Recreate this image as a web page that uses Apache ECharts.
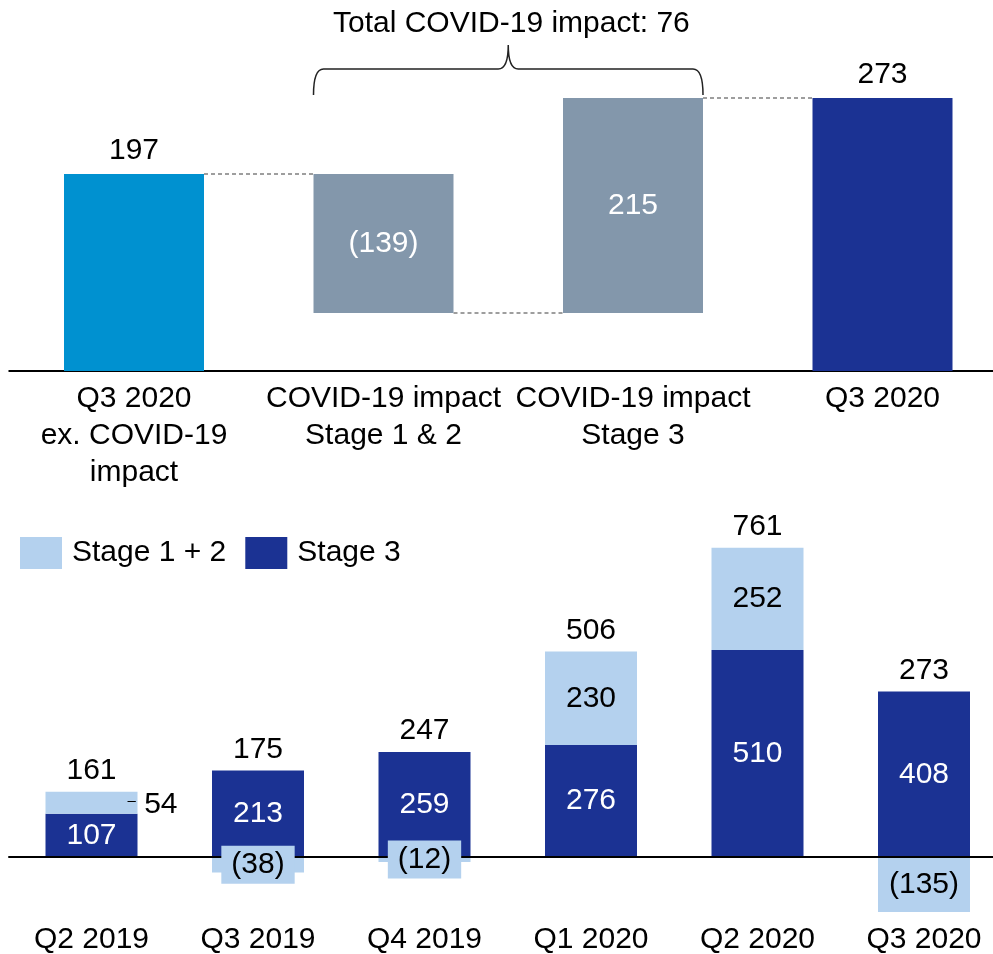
<!DOCTYPE html>
<html>
<head>
<meta charset="utf-8">
<script src="https://cdn.jsdelivr.net/npm/echarts@6/dist/echarts.min.js"></script>
<style>
  html, body { margin: 0; padding: 0; background: #fff; }
  #chart { width: 993px; height: 954px; }
</style>
</head>
<body>
<div id="chart"></div>
<script>
// top: waterfall
const wfCategories = ['Q3 2020\nex. COVID-19\nimpact', 'COVID-19 impact\nStage 1 & 2', 'COVID-19 impact\nStage 3', 'Q3 2020']
const wfValues = [197, -139, 215, 273]
const wfIsTotal = [true, false, false, true]
const wfColors = ['#0091d0', '#8397ab', '#8397ab', '#1b3293']
const braceText = 'Total COVID-19 impact: 76'
const braceSpan = [1, 2]

// bottom: stacked quarters
const quarters = ['Q2 2019', 'Q3 2019', 'Q4 2019', 'Q1 2020', 'Q2 2020', 'Q3 2020']
const stage12 = [54, -38, -12, 230, 252, -135]
const stage3 = [107, 213, 259, 276, 510, 408]
const totals = [161, 175, 247, 506, 761, 273]

const FONT = 'Liberation Sans, Arial, sans-serif'
const LIGHT = '#b4d1ee'
const NAVY = '#1b3293'
const TOP_BAR = 140
const BOTTOM_BAR = 92

const fmt = v => v < 0 ? '(' + Math.abs(v) + ')' : String(v)

// waterfall base / height and connector levels
const wfBase = []
const wfHeight = []
const levels = []
let running = 0
wfValues.forEach((v, i) => {
  if (wfIsTotal[i]) {
    wfBase.push(0)
    wfHeight.push(v)
    running = v
  } else if (v < 0) {
    wfBase.push(running + v)
    wfHeight.push(-v)
    running += v
  } else {
    wfBase.push(running)
    wfHeight.push(v)
    running += v
  }
  levels.push(running)
})
const connectors = levels.slice(0, -1).map((lv, i) => [i, lv])
const braceLevel = Math.max(...braceSpan.map(i => wfBase[i] + wfHeight[i]))

const wfData = wfHeight.map((h, i) => ({
  value: h,
  itemStyle: { color: wfColors[i] },
  label: wfIsTotal[i]
    ? { position: 'top', distance: 8, color: '#000' }
    : { position: 'inside', color: '#fff' }
}))

// negative stage 1+2 labels sit on a higher layer, above the zero line
const stage12Data = stage12.map(v => v < 0 ? { value: v, label: { show: false } } : v)
const negLabels = stage12.map((v, i) => v < 0 ? [i, v / 2] : [i, '-'])

// the small 54 segment is labelled outside, to the right
stage12Data[0] = {
  value: stage12[0],
  label: {
    position: 'right',
    distance: -10,
    formatter: '{d|–} {n|' + stage12[0] + '}',
    rich: {
      d: { fontSize: 15, fontFamily: FONT, color: '#000', padding: [0, 0, 4, 0] },
      n: { fontSize: 30, fontFamily: FONT, color: '#000', padding: [4, 0, 0, 0] }
    }
  }
}

const totalTops = stage3.map((v, i) => [i, v + Math.max(stage12[i], 0)])

const chart = echarts.init(document.getElementById('chart'))

const option = {
  animation: false,
  textStyle: { fontFamily: FONT },
  title: {
    text: braceText,
    left: 333,
    top: 9,
    padding: 0,
    textStyle: { fontFamily: FONT, fontSize: 30, fontWeight: 'normal', color: '#000' }
  },
  legend: {
    data: ['Stage 1 + 2', 'Stage 3'],
    left: 20,
    top: 537,
    padding: 0,
    itemWidth: 42,
    itemHeight: 32,
    itemGap: 19,
    icon: 'rect',
    textStyle: { fontFamily: FONT, fontSize: 30, color: '#000', padding: [0, 0, 0, 5] }
  },
  grid: [
    { left: 9.25, width: 998, top: 21, height: 350, outerBoundsMode: 'none', containLabel: false },
    { left: 8.25, width: 999, top: 491.6, height: 426.4, outerBoundsMode: 'none', containLabel: false }
  ],
  xAxis: [
    {
      type: 'category',
      gridIndex: 0,
      data: wfCategories,
      axisTick: { show: false },
      axisLine: { lineStyle: { color: '#000', width: 2 } },
      axisLabel: { fontFamily: FONT, fontSize: 30, lineHeight: 37, color: '#000', margin: 9, interval: 0 }
    },
    {
      type: 'category',
      gridIndex: 1,
      data: quarters,
      axisTick: { show: false },
      axisLine: { show: false, onZero: false },
      axisLabel: { fontFamily: FONT, fontSize: 30, lineHeight: 36, color: '#000', margin: 4, interval: 0 }
    }
  ],
  yAxis: [
    { type: 'value', gridIndex: 0, min: 0, max: 350, show: false },
    { type: 'value', gridIndex: 1, min: -150, max: 900, show: false }
  ],
  series: [
    {
      name: 'base',
      type: 'bar',
      xAxisIndex: 0,
      yAxisIndex: 0,
      stack: 'wf',
      barWidth: TOP_BAR,
      itemStyle: { color: 'transparent' },
      data: wfBase,
      silent: true
    },
    {
      name: 'waterfall',
      type: 'bar',
      xAxisIndex: 0,
      yAxisIndex: 0,
      stack: 'wf',
      barWidth: TOP_BAR,
      label: {
        show: true,
        fontFamily: FONT,
        fontSize: 30,
        formatter: p => fmt(wfValues[p.dataIndex])
      },
      data: wfData
    },
    {
      name: 'connectors',
      type: 'custom',
      xAxisIndex: 0,
      yAxisIndex: 0,
      silent: true,
      data: connectors,
      renderItem: (params, api) => {
        const i = api.value(0)
        const lv = api.value(1)
        const p0 = api.coord([i, lv])
        const p1 = api.coord([i + 1, lv])
        return {
          type: 'line',
          shape: { x1: p0[0] + TOP_BAR / 2, y1: p0[1], x2: p1[0] - TOP_BAR / 2, y2: p1[1] },
          style: { stroke: '#7f7f7f', lineWidth: 1.5, lineDash: [4, 3] }
        }
      }
    },
    {
      name: 'brace',
      type: 'custom',
      xAxisIndex: 0,
      yAxisIndex: 0,
      silent: true,
      data: [[braceSpan[0], braceSpan[1], braceLevel]],
      renderItem: (params, api) => {
        const a = api.coord([api.value(0), api.value(2)])
        const b = api.coord([api.value(1), api.value(2)])
        const l = a[0] - TOP_BAR / 2
        const r = b[0] + TOP_BAR / 2
        const m = (l + r) / 2
        const yEnd = a[1] - 3
        const yMid = a[1] - 29
        const yTip = a[1] - 53
        return {
          type: 'path',
          shape: {
            pathData: `M${l},${yEnd} Q${l},${yMid} ${l + 10},${yMid} L${m - 10},${yMid} Q${m},${yMid} ${m},${yTip} ` +
              `Q${m},${yMid} ${m + 10},${yMid} L${r - 10},${yMid} Q${r},${yMid} ${r},${yEnd}`
          },
          style: { fill: null, stroke: '#222', lineWidth: 1.5 }
        }
      }
    },
    {
      name: 'Stage 3',
      type: 'bar',
      xAxisIndex: 1,
      yAxisIndex: 1,
      stack: 'q',
      barWidth: BOTTOM_BAR,
      itemStyle: { color: NAVY },
      label: { show: true, position: 'inside', color: '#fff', fontFamily: FONT, fontSize: 30 },
      data: stage3
    },
    {
      name: 'Stage 1 + 2',
      type: 'bar',
      xAxisIndex: 1,
      yAxisIndex: 1,
      stack: 'q',
      barWidth: BOTTOM_BAR,
      itemStyle: { color: LIGHT },
      label: {
        show: true,
        position: 'inside',
        color: '#000',
        fontFamily: FONT,
        fontSize: 30
      },
      data: stage12Data
    },
    {
      name: 'totals',
      type: 'scatter',
      xAxisIndex: 1,
      yAxisIndex: 1,
      z: 3,
      symbolSize: 0,
      silent: true,
      itemStyle: { color: 'transparent', opacity: 1 },
      label: {
        show: true,
        position: 'top',
        distance: 6,
        color: '#000',
        fontFamily: FONT,
        fontSize: 30,
        formatter: p => String(totals[p.dataIndex])
      },
      markLine: {
        silent: true,
        z: 3,
        symbol: ['none', 'none'],
        label: { show: false },
        lineStyle: { color: '#000', width: 2, type: 'solid', opacity: 1 },
        data: [{ yAxis: 0 }]
      },
      data: totalTops
    },
    {
      name: 'negLabels',
      type: 'scatter',
      xAxisIndex: 1,
      yAxisIndex: 1,
      z: 8,
      symbolSize: 0,
      silent: true,
      itemStyle: { color: 'transparent', opacity: 1 },
      label: {
        show: true,
        position: 'inside',
        color: '#000',
        fontFamily: FONT,
        fontSize: 30,
        backgroundColor: LIGHT,
        padding: [4, 10],
        formatter: p => fmt(stage12[p.dataIndex])
      },
      data: negLabels
    }
  ]
}

chart.setOption(option)
</script>
</body>
</html>
